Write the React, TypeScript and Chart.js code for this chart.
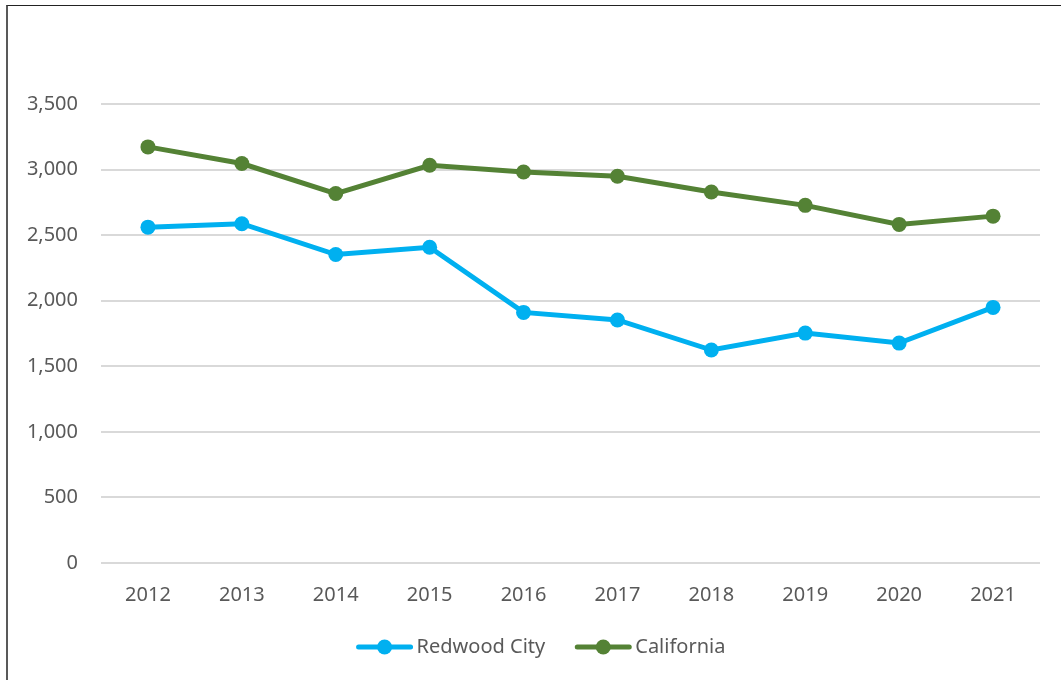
import React, { useEffect, useRef } from "react";
import { Chart, registerables } from "chart.js";

Chart.register(...registerables);

const years = ["2012", "2013", "2014", "2015", "2016", "2017", "2018", "2019", "2020", "2021"];
const redwoodCity = [2561, 2587, 2352, 2408, 1911, 1853, 1624, 1753, 1677, 1949];
const california = [3173, 3046, 2817, 3033, 2982, 2949, 2829, 2727, 2582, 2645];
const seriesNames = ["Redwood City", "California"];
const seriesColors = ["#00B0F0", "#548235"];

const FONT = '"Noto Sans", sans-serif';
const TEXT_COLOR = "#595959";

const legendPlugin = {
  id: "lineLegend",
  afterDraw(chart: any) {
    const ctx = chart.ctx;
    ctx.save();
    ctx.font = `20px ${FONT}`;
    const lineW = 56;
    const gapText = 4;
    const gapItem = 30;
    const items = chart.data.datasets.map((ds: any) => ({
      label: ds.label,
      color: ds.borderColor,
      w: lineW + gapText + ctx.measureText(ds.label).width,
    }));
    const total = items.reduce((s: number, i: any) => s + i.w, 0) + gapItem * (items.length - 1);
    let x = 541 - total / 2;
    const y = 647;
    for (const it of items) {
      ctx.strokeStyle = it.color;
      ctx.lineWidth = 5;
      ctx.lineCap = "round";
      ctx.beginPath();
      ctx.moveTo(x + 2, y);
      ctx.lineTo(x + lineW - 2, y);
      ctx.stroke();
      ctx.fillStyle = it.color;
      ctx.beginPath();
      ctx.arc(x + lineW / 2, y, 7.5, 0, Math.PI * 2);
      ctx.fill();
      ctx.fillStyle = TEXT_COLOR;
      ctx.textAlign = "left";
      ctx.textBaseline = "middle";
      ctx.fillText(it.label, x + lineW + gapText, y);
      x += it.w + gapItem;
    }
    ctx.restore();
  },
};

export default function App() {
  const canvasRef = useRef<HTMLCanvasElement | null>(null);

  useEffect(() => {
    document.body.style.margin = "0";
    document.body.style.overflow = "hidden";
    const canvas = canvasRef.current;
    if (!canvas) return;
    const chart = new Chart(canvas, {
      type: "line",
      data: {
        labels: years,
        datasets: [
          {
            label: seriesNames[0],
            data: redwoodCity,
            borderColor: seriesColors[0],
            backgroundColor: seriesColors[0],
            borderWidth: 5,
            pointRadius: 7.5,
            pointBorderWidth: 0,
            pointBackgroundColor: seriesColors[0],
            tension: 0,
          },
          {
            label: seriesNames[1],
            data: california,
            borderColor: seriesColors[1],
            backgroundColor: seriesColors[1],
            borderWidth: 5,
            pointRadius: 7.5,
            pointBorderWidth: 0,
            pointBackgroundColor: seriesColors[1],
            tension: 0,
          },
        ],
      },
      options: {
        animation: false,
        responsive: false,
        maintainAspectRatio: false,
        layout: { padding: { left: 0, right: 21, top: 104, bottom: 67 } },
        plugins: {
          legend: { display: false },
          tooltip: { enabled: false },
          title: { display: false },
        },
        scales: {
          x: {
            offset: true,
            grid: { display: false },
            border: { display: false },
            ticks: {
              color: TEXT_COLOR,
              font: { family: FONT, size: 20 },
              padding: 12,
              maxRotation: 0,
            },
            afterFit(scale: any) {
              scale.height = 50;
            },
          },
          y: {
            min: 0,
            max: 3500,
            grid: { color: "#D9D9D9", lineWidth: 2, drawTicks: false },
            border: { display: false },
            ticks: {
              stepSize: 500,
              color: TEXT_COLOR,
              font: { family: FONT, size: 20 },
              padding: 23,
              callback: (v: any) => Number(v).toLocaleString("en-US"),
            },
            afterFit(scale: any) {
              scale.width = 101;
            },
          },
        },
      },
      plugins: [legendPlugin],
    });
    return () => chart.destroy();
  }, []);

  return (
    <div style={{ position: "relative", width: 1061, height: 680, overflow: "hidden", background: "#fff" }}>
      <div
        style={{
          position: "absolute",
          left: 6,
          top: 5,
          width: 1100,
          height: 700,
          borderLeft: "2px solid #595959",
          borderTop: "1px solid #222",
        }}
      />
      <canvas ref={canvasRef} width={1061} height={680} style={{ position: "absolute", left: 0, top: 0 }} />
    </div>
  );
}
